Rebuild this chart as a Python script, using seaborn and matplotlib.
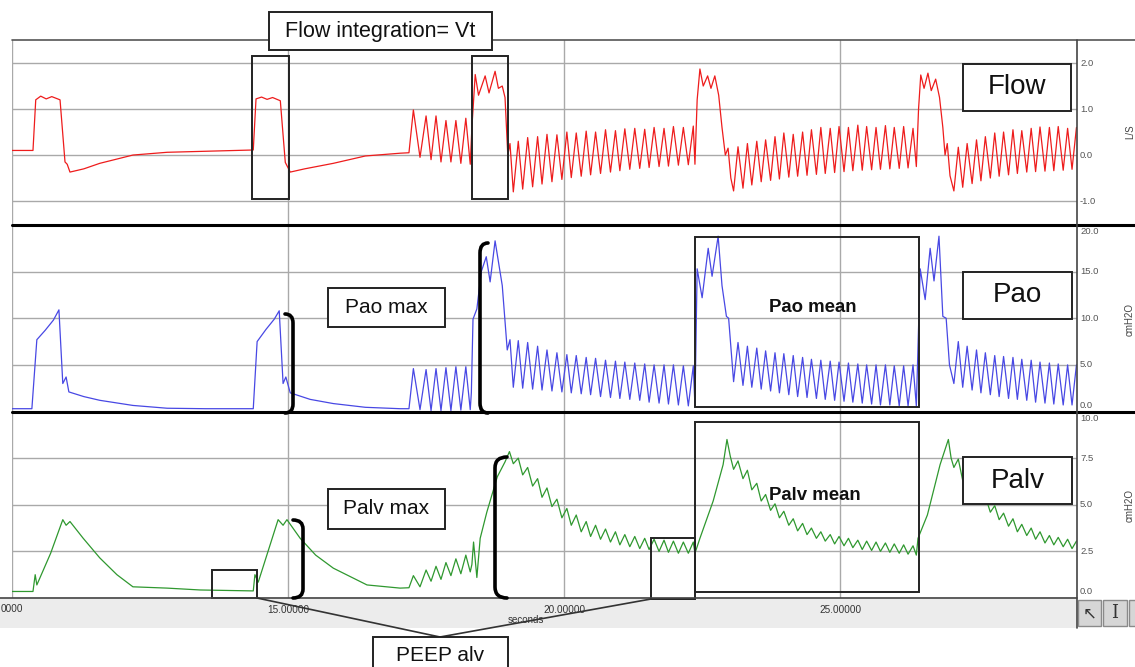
import numpy as np
import pandas as pd
import matplotlib
matplotlib.use("Agg")
import matplotlib.pyplot as plt
import matplotlib.transforms as mtransforms
import seaborn as sns
from matplotlib.patches import Rectangle, PathPatch
from matplotlib.path import Path

# ---- time axis ----
t_min, t_max = 10.0, 29.29
x_grid = [10, 15, 20, 25]
x_tick_labels = ["", "15.00000", "20.00000", "25.00000"]
x_first_label = "0000"   # the left label is cut by the window edge in the original

# ---- oscillation cycles (shared by the three signals), seconds ----
osc_peak_t = ([17.27, 17.50, 17.68, 17.86, 18.04, 18.22]
              + [19.17, 19.34, 19.52, 19.69, 19.87, 20.05, 20.22, 20.40, 20.57, 20.75,
                 20.93, 21.10, 21.28, 21.46, 21.63, 21.81, 21.98, 22.16, 22.34]
              + [23.15, 23.32, 23.49, 23.65, 23.82, 23.98, 24.15, 24.32, 24.48, 24.65,
                 24.82, 24.98, 25.15, 25.32, 25.48, 25.65, 25.82, 25.98, 26.15, 26.32]
              + [27.14, 27.30, 27.47, 27.63, 27.80, 27.96, 28.13, 28.29, 28.46, 28.62,
                 28.79, 28.95, 29.12, 29.28])
osc_trough_t = ([17.39, 17.59, 17.77, 17.95, 18.13, 18.30]
                + [19.08, 19.25, 19.43, 19.60, 19.78, 19.96, 20.13, 20.31, 20.48, 20.66,
                   20.84, 21.01, 21.19, 21.37, 21.54, 21.72, 21.89, 22.07, 22.25]
                + [23.07, 23.24, 23.40, 23.57, 23.74, 23.90, 24.07, 24.23, 24.40, 24.57,
                   24.73, 24.90, 25.07, 25.23, 25.40, 25.57, 25.73, 25.90, 26.07, 26.23]
                + [27.06, 27.22, 27.39, 27.55, 27.72, 27.88, 28.05, 28.21, 28.38, 28.54,
                   28.71, 28.87, 29.04, 29.20])

# ---- Flow (L/s) ----
flow_slow_t = [10.00, 10.38, 10.43, 10.52, 10.62, 10.72, 10.87, 10.96, 11.00, 11.05,
               11.30, 11.59, 12.19, 12.81, 13.41, 14.31, 14.37, 14.42, 14.52, 14.62,
               14.72, 14.86, 14.95, 15.04, 15.30, 15.82, 16.40, 17.03, 17.19,
               18.33, 18.39, 18.45, 18.57, 18.64, 18.75, 18.81, 18.88, 18.93, 18.98, 19.02,
               22.37, 22.41, 22.46, 22.52, 22.60, 22.66, 22.73, 22.80, 22.86, 22.92, 22.97, 23.02,
               26.38, 26.42, 26.46, 26.52, 26.59, 26.65, 26.73, 26.80, 26.86, 26.90, 26.94, 26.99]
flow_slow_v = [0.10, 0.10, 1.20, 1.28, 1.22, 1.27, 1.20, -0.15, -0.20, -0.37,
               -0.30, -0.18, 0.00, 0.06, 0.08, 0.11, 0.11, 1.22, 1.26, 1.21,
               1.25, 1.18, -0.16, -0.37, -0.30, -0.18, -0.02, 0.04, 0.05,
               0.60, 1.75, 1.30, 1.72, 1.35, 1.82, 1.45, 1.50, 1.25, 0.00, 0.25,
               -0.20, 1.20, 1.87, 1.50, 1.72, 1.45, 1.72, 1.30, 0.60, 0.00, 0.15, -0.50,
               -0.25, 1.00, 1.74, 1.45, 1.78, 1.40, 1.65, 1.25, 0.60, 0.00, 0.25, -0.45]
flow_osc_peak = ([0.98, 0.85, 0.85, 0.75, 0.75, 0.80]
                 + [0.30, 0.38, 0.40, 0.45, 0.44, 0.50, 0.48, 0.52, 0.50, 0.55,
                    0.53, 0.57, 0.58, 0.56, 0.60, 0.58, 0.62, 0.60, 0.63]
                 + [0.18, 0.25, 0.30, 0.33, 0.40, 0.48, 0.45, 0.50, 0.55, 0.60,
                    0.58, 0.62, 0.60, 0.65, 0.62, 0.60, 0.64, 0.60, 0.62, 0.58]
                 + [0.17, 0.25, 0.33, 0.40, 0.48, 0.50, 0.55, 0.53, 0.58, 0.61,
                    0.60, 0.62, 0.58, 0.60])
flow_osc_trough = ([-0.05, -0.10, -0.15, -0.15, -0.18, -0.20]
                   + [-0.80, -0.74, -0.69, -0.63, -0.58, -0.53, -0.49, -0.46, -0.43, -0.40,
                      -0.37, -0.34, -0.31, -0.29, -0.27, -0.25, -0.24, -0.22, -0.21]
                   + [-0.78, -0.72, -0.65, -0.58, -0.55, -0.52, -0.48, -0.46, -0.44, -0.42,
                      -0.40, -0.38, -0.36, -0.34, -0.33, -0.32, -0.31, -0.30, -0.29, -0.28]
                   + [-0.78, -0.70, -0.62, -0.56, -0.50, -0.46, -0.43, -0.40, -0.37, -0.36,
                      -0.35, -0.34, -0.33, -0.31])

# ---- Pao (cmH2O) ----
pao_slow_t = [10.00, 10.36, 10.45, 10.60, 10.75, 10.85, 10.92, 10.98, 11.03, 11.30,
              11.59, 12.19, 12.81, 13.50, 14.37, 14.44, 14.60, 14.75, 14.84, 14.91,
              14.96, 15.04, 15.40, 15.82, 16.40, 17.03, 17.19,
              18.32, 18.35, 18.42, 18.50, 18.59, 18.66, 18.75, 18.88, 18.97, 19.02,
              22.37, 22.41, 22.50, 22.61, 22.68, 22.79, 22.86, 22.94, 22.98,
              26.38, 26.45, 26.54, 26.63, 26.70, 26.79, 26.86, 26.92, 26.98]
pao_slow_v = [0.30, 0.30, 7.70, 8.70, 9.80, 10.90, 3.00, 3.70, 2.10, 1.60,
              1.20, 0.65, 0.35, 0.30, 0.30, 7.50, 8.80, 9.90, 10.80, 3.00,
              3.70, 2.00, 1.30, 0.85, 0.45, 0.30, 0.30,
              2.00, 9.90, 11.00, 15.00, 16.60, 13.90, 18.30, 13.50, 6.60, 7.70,
              0.60, 15.30, 12.20, 17.50, 14.50, 18.80, 13.50, 10.20, 10.00,
              0.60, 15.30, 12.00, 17.50, 14.00, 18.80, 10.20, 10.00, 5.00]
pao_osc_peak = ([4.6, 4.5, 4.6, 4.7, 4.8, 4.8]
                + [7.6, 7.4, 7.0, 6.6, 6.3, 6.1, 6.0, 5.8, 5.7, 5.5,
                   5.4, 5.3, 5.2, 5.1, 5.0, 5.0, 5.0, 4.9, 4.9]
                + [7.4, 7.0, 6.8, 6.5, 6.3, 6.2, 6.0, 5.8, 5.6, 5.5,
                   5.4, 5.3, 5.2, 5.1, 5.0, 5.0, 5.0, 4.9, 4.9, 5.0]
                + [7.5, 7.0, 6.6, 6.3, 6.0, 5.9, 5.8, 5.6, 5.5, 5.3,
                   5.2, 5.1, 5.0, 5.0])
pao_osc_trough = ([0.2, 0.1, 0.1, 0.1, 0.15, 0.2]
                  + [2.6, 2.5, 2.4, 2.3, 2.2, 2.1, 2.0, 1.9, 1.8, 1.6,
                     1.5, 1.4, 1.3, 1.2, 1.0, 0.9, 0.8, 0.7, 0.6]
                  + [3.2, 2.8, 2.6, 2.4, 2.2, 2.0, 1.8, 1.6, 1.5, 1.4,
                     1.3, 1.2, 1.1, 1.0, 0.9, 0.8, 0.7, 0.7, 0.6, 0.6]
                  + [3.0, 2.6, 2.3, 2.0, 1.8, 1.6, 1.4, 1.3, 1.2, 1.0,
                     0.9, 0.8, 0.7, 0.7])

# ---- Palv (cmH2O) ----
palv_slow_t = [10.00, 10.38, 10.42, 10.45, 10.70, 10.92, 10.98, 11.05, 11.29, 11.59,
               11.90, 12.19, 12.81, 13.41, 14.37, 14.40, 14.46, 14.82, 14.91, 14.98,
               15.22, 15.50, 15.82, 16.43, 17.03, 17.19,
               18.33, 18.36, 18.42, 18.48, 18.60, 18.79, 18.93, 19.01,
               22.37, 22.46, 22.70, 22.88, 22.95, 23.01,
               26.38, 26.41, 26.58, 26.81, 26.96, 27.01]
palv_slow_v = [0.35, 0.35, 1.25, 0.70, 2.40, 4.20, 3.90, 4.10, 3.20, 2.15,
               1.25, 0.60, 0.53, 0.43, 0.38, 1.25, 0.85, 4.20, 3.90, 4.20,
               3.20, 2.30, 1.60, 0.70, 0.53, 0.55,
               1.80, 3.00, 1.10, 3.20, 4.60, 6.50, 7.30, 7.85,
               2.40, 3.20, 5.20, 7.15, 8.50, 7.60,
               2.30, 3.20, 4.45, 7.15, 8.50, 7.50]
palv_osc_peak = ([1.2, 1.5, 1.7, 1.9, 2.1, 2.3]
                 + [7.5, 7.0, 6.4, 5.9, 5.3, 4.8, 4.45, 4.1, 3.9, 3.7,
                    3.55, 3.4, 3.3, 3.2, 3.15, 3.1, 3.05, 3.0, 3.0]
                 + [7.35, 6.85, 6.15, 5.55, 5.05, 4.65, 4.25, 4.0, 3.75, 3.55,
                    3.4, 3.3, 3.2, 3.1, 3.05, 3.0, 2.95, 2.9, 2.85, 2.8]
                 + [7.45, 6.55, 6.05, 5.45, 4.95, 4.55, 4.25, 3.95, 3.75, 3.55,
                    3.35, 3.25, 3.15, 3.05])
palv_osc_trough = ([0.6, 0.9, 1.0, 1.2, 1.3, 1.4]
                   + [7.2, 6.6, 6.0, 5.4, 4.9, 4.3, 3.9, 3.55, 3.3, 3.15,
                      3.0, 2.85, 2.75, 2.65, 2.6, 2.5, 2.45, 2.4, 2.4]
                   + [6.9, 6.4, 5.8, 5.2, 4.7, 4.3, 3.9, 3.6, 3.4, 3.2,
                      3.05, 2.9, 2.8, 2.7, 2.6, 2.55, 2.5, 2.45, 2.4, 2.35]
                   + [7.0, 6.3, 5.6, 5.1, 4.6, 4.2, 3.85, 3.55, 3.35, 3.15,
                      2.95, 2.85, 2.75, 2.65])

flow_ticks = [-1.0, 0.0, 1.0, 2.0]
pao_ticks = [0.0, 5.0, 10.0, 15.0, 20.0]
palv_ticks = [0.0, 2.5, 5.0, 7.5, 10.0]


def build_trace(slow_t, slow_v, peak_v, trough_v):
    t = np.array(slow_t + osc_peak_t + osc_trough_t)
    v = np.array(slow_v + peak_v + trough_v)
    order = np.argsort(t, kind="stable")
    return pd.DataFrame({"t": t[order], "v": v[order]})


flow_df = build_trace(flow_slow_t, flow_slow_v, flow_osc_peak, flow_osc_trough)
pao_df = build_trace(pao_slow_t, pao_slow_v, pao_osc_peak, pao_osc_trough)
palv_df = build_trace(palv_slow_t, palv_slow_v, palv_osc_peak, palv_osc_trough)

sns.set_style("white")
plt.rcParams["font.family"] = ["Liberation Sans", "DejaVu Sans"]

W, H = 1135, 667
fig = plt.figure(figsize=(W / 100, H / 100), dpi=100)


def px_axes(x0, y0, x1, y1):
    return fig.add_axes([x0 / W, 1 - y1 / H, (x1 - x0) / W, (y1 - y0) / H])


# background layer (ruler band)
bg = fig.add_axes([0, 0, 1, 1])
bg.set_xlim(0, W)
bg.set_ylim(H, 0)
bg.axis("off")
bg.set_zorder(0)
bg.add_patch(Rectangle((0, 598), 1077, 30, facecolor="#ececec", edgecolor="none"))

ax_flow = px_axes(12, 40, 1077, 225)
ax_pao = px_axes(12, 225, 1077, 411.5)
ax_palv = px_axes(12, 411.5, 1077, 598)

panels = [
    (ax_flow, flow_df, "#ee1c1c", (-1.52, 2.5), flow_ticks),
    (ax_pao, pao_df, "#4848e4", (0, 20), pao_ticks),
    (ax_palv, palv_df, "#2f982f", (0, 10), palv_ticks),
]
for ax, df, color, ylim, ticks in panels:
    ax.set_zorder(1)
    sns.lineplot(data=df, x="t", y="v", ax=ax, color=color, linewidth=0.9,
                 estimator=None)
    ax.set_xlim(t_min, t_max)
    ax.set_ylim(*ylim)
    ax.set_xticks(x_grid)
    ax.set_yticks(ticks)
    ax.grid(True, color="#a9a9a9", linewidth=1.0)
    ax.tick_params(length=0, labelleft=False, labelbottom=False)
    ax.set_xlabel("")
    ax.set_ylabel("")
    for s in ax.spines.values():
        s.set_visible(False)
    for tv in ticks:
        dy = 0
        if tv == ylim[1]:
            dy = -7
        elif tv == ylim[0]:
            dy = 6
        trans = mtransforms.offset_copy(ax.get_yaxis_transform(), fig=fig,
                                        x=0, y=dy, units="dots")
        ax.text(1.0 + 3 / 1065, tv, "%.1f" % tv, transform=trans,
                ha="left", va="center", fontsize=6.8, color="#555555", clip_on=False)

ax_palv.set_xticklabels(x_tick_labels)
ax_palv.tick_params(axis="x", labelbottom=True, pad=5, labelsize=7.2,
                    labelcolor="#333333")

# foreground annotation layer, pixel coordinates
fg = fig.add_axes([0, 0, 1, 1])
fg.set_xlim(0, W)
fg.set_ylim(H, 0)
fg.axis("off")
fg.set_zorder(3)
fg.patch.set_visible(False)

# frame lines
fg.plot([12, W], [40, 40], color="#555555", lw=1.2)
fg.plot([12, W], [225, 225], color="black", lw=2.2)
fg.plot([12, W], [411.5, 411.5], color="black", lw=2.2)
fg.plot([0, 1077], [598, 598], color="#444444", lw=1.2)
fg.plot([1077, 1077], [40, 628], color="#444444", lw=1.2)

# ruler texts
fg.text(1, 609, x_first_label, ha="left", va="center", fontsize=7.2, color="#333333")
fg.text(526, 620, "seconds", ha="center", va="center", fontsize=7, color="#333333")

# unit labels on the right
fg.text(1130, 132, "L/S", rotation=90, ha="center", va="center", fontsize=7, color="#444444")
fg.text(1130, 320, "cmH2O", rotation=90, ha="center", va="center", fontsize=7, color="#444444")
fg.text(1130, 505, "cmH2O", rotation=90, ha="center", va="center", fontsize=7, color="#444444")

# ruler tool buttons
for bx, bw in [(1078, 23), (1103, 24), (1129, 10)]:
    fg.add_patch(Rectangle((bx, 600), bw, 26, facecolor="#d6d6d6", edgecolor="#8a8a8a", lw=1))
fg.text(1089.5, 613, "\u2196", ha="center", va="center", fontsize=12, color="#333333",
        family="DejaVu Sans")
fg.text(1115, 613, "I", ha="center", va="center", fontsize=13, color="#333333",
        family="DejaVu Serif")

# outline boxes (no fill)
outline_boxes = [(252, 56, 289, 199), (472, 56, 508, 199),
                 (695, 237, 919, 407), (695, 422, 919, 592),
                 (212, 570, 257, 598), (651, 538, 695, 599)]
for x0, y0, x1, y1 in outline_boxes:
    fg.add_patch(Rectangle((x0, y0), x1 - x0, y1 - y0, fill=False,
                           edgecolor="#222222", lw=1.4))

# PEEP connector lines
fg.plot([257, 440, 651], [598, 637, 599], color="#333333", lw=1.2)

# labelled boxes (white fill)
label_boxes = [
    ((269, 12, 492, 50), "Flow integration= Vt", 15.5),
    ((963, 64, 1071, 111), "Flow", 20),
    ((963, 272, 1072, 319), "Pao", 20),
    ((963, 457, 1072, 504), "Palv", 20),
    ((328, 288, 445, 327), "Pao max", 15),
    ((328, 489, 445, 529), "Palv max", 15),
    ((373, 637, 508, 682), "PEEP alv", 15),
]
for (x0, y0, x1, y1), txt, fs in label_boxes:
    fg.add_patch(Rectangle((x0, y0), x1 - x0, y1 - y0, facecolor="white",
                           edgecolor="#222222", lw=1.4, zorder=4))
    cy = (y0 + min(y1, 674)) / 2
    fg.text((x0 + x1) / 2, cy, txt, ha="center", va="center", fontsize=fs,
            color="#111111", zorder=5)

fg.text(769, 307, "Pao mean", ha="left", va="center", fontsize=13.4,
        fontweight="bold", color="#111111", zorder=5)
fg.text(769, 495, "Palv mean", ha="left", va="center", fontsize=13.4,
        fontweight="bold", color="#111111", zorder=5)


def bracket(x_tip, x_side, y0, y1, r):
    verts = [(x_tip, y0), (x_side, y0), (x_side, y0 + r),
             (x_side, y1 - r), (x_side, y1), (x_tip, y1)]
    codes = [Path.MOVETO, Path.CURVE3, Path.CURVE3,
             Path.LINETO, Path.CURVE3, Path.CURVE3]
    fg.add_patch(PathPatch(Path(verts, codes), fill=False, edgecolor="black",
                           lw=2.6, capstyle="round", zorder=5))


bracket(285, 293, 314, 413, 9)
bracket(488, 480, 243, 413, 10)
bracket(293, 303, 520, 598, 9)
bracket(507, 495, 457, 598, 11)

fig.savefig("out.png", dpi=100)
